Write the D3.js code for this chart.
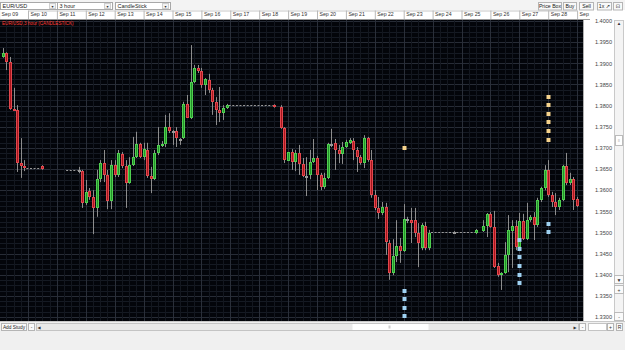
<!DOCTYPE html>
<html><head><meta charset="utf-8">
<script src="https://cdnjs.cloudflare.com/ajax/libs/d3/7.8.5/d3.min.js"></script>
<style>
html,body{margin:0;padding:0;background:#f0f0f0;overflow:hidden;width:625px;height:350px}
svg{display:block}
text{font-family:"Liberation Sans",Arial,"DejaVu Sans",sans-serif}
</style></head><body>
<svg id="chart" width="625" height="350"></svg>
<script>
// ---------- DATA (EUR/USD, 3-hour bars, Sep 2011) ----------
const barTimes = [
 "09-09 03","09-09 06","09-09 09","09-09 12","09-09 15","09-09 18","09-09 21","09-10 12",
 "09-11 18","09-11 21","09-12 00","09-12 03","09-12 06","09-12 09","09-12 12","09-12 15","09-12 18","09-12 21",
 "09-13 00","09-13 03","09-13 06","09-13 09","09-13 12","09-13 15","09-13 18","09-13 21",
 "09-14 00","09-14 03","09-14 06","09-14 09","09-14 12","09-14 15","09-14 18","09-14 21",
 "09-15 00","09-15 03","09-15 06","09-15 09","09-15 12","09-15 15","09-15 18","09-15 21",
 "09-16 00","09-16 03","09-16 06","09-16 09","09-16 12","09-16 15","09-16 18","09-16 21",
 "09-18 12","09-18 18","09-18 21",
 "09-19 00","09-19 03","09-19 06","09-19 09","09-19 12","09-19 15","09-19 18","09-19 21",
 "09-20 00","09-20 03","09-20 06","09-20 09","09-20 12","09-20 15","09-20 18","09-20 21",
 "09-21 00","09-21 03","09-21 06","09-21 09","09-21 12","09-21 15","09-21 18","09-21 21",
 "09-22 00","09-22 03","09-22 06","09-22 09","09-22 12","09-22 15","09-22 18","09-22 21",
 "09-23 00","09-23 03","09-23 06","09-23 09","09-23 12","09-23 15","09-23 18","09-23 21",
 "09-24 18",
 "09-25 12","09-25 18","09-25 21",
 "09-26 00","09-26 03","09-26 06","09-26 09","09-26 12","09-26 15","09-26 18","09-26 21",
 "09-27 00","09-27 03","09-27 06","09-27 09","09-27 12","09-27 15","09-27 18","09-27 21",
 "09-28 00","09-28 03","09-28 06","09-28 09","09-28 12","09-28 15","09-28 18","09-28 21",
 "09-29 00"
];
const opens = [
 1.3915,1.3924,1.3903,1.3792,1.3790,1.3664,1.3657,1.3657,
 1.3648,1.3645,1.3570,1.3598,1.3584,1.3558,1.3626,1.3664,1.3636,1.3574,
 1.3660,1.3636,1.3686,1.3657,1.3617,1.3660,1.3678,1.3709,
 1.3678,1.3695,1.3634,1.3626,1.3688,1.3705,1.3709,1.3749,
 1.3740,1.3740,1.3721,1.3723,1.3804,1.3771,1.3856,1.3889,
 1.3882,1.3849,1.3860,1.3837,1.3808,1.3790,1.3782,1.3794,
 1.3801,1.3797,1.3747,
 1.3669,1.3690,1.3667,1.3688,1.3662,1.3634,1.3636,1.3667,
 1.3676,1.3636,1.3607,1.3629,1.3709,1.3712,1.3695,1.3686,
 1.3702,1.3712,1.3716,1.3695,1.3678,1.3664,1.3723,1.3671,
 1.3589,1.3558,1.3546,1.3560,1.3475,1.3404,1.3444,1.3468,
 1.3456,1.3532,1.3529,1.3529,1.3499,1.3463,1.3515,1.3463,
 1.3501,
 1.3499,1.3503,1.3515,
 1.3544,1.3513,1.3421,1.3399,1.3404,1.3447,1.3503,1.3515,
 1.3466,1.3527,1.3484,1.3529,1.3537,1.3518,1.3577,1.3605,
 1.3648,1.3589,1.3572,1.3560,1.3577,1.3657,1.3617,1.3626,
 1.3579
];
const highs = [
 1.3936,1.3926,1.3915,1.3842,1.3801,1.3723,1.3671,1.3659,
 1.3655,1.3648,1.3624,1.3605,1.3600,1.3648,1.3671,1.3695,1.3648,1.3671,
 1.3671,1.3695,1.3690,1.3671,1.3678,1.3726,1.3738,1.3712,
 1.3712,1.3712,1.3655,1.3695,1.3749,1.3716,1.3778,1.3782,
 1.3742,1.3749,1.3723,1.3809,1.3825,1.3943,1.3896,1.3896,
 1.3889,1.3865,1.3875,1.3842,1.3820,1.3844,1.3801,1.3804,
 1.3803,1.3801,1.3749,
 1.3690,1.3697,1.3695,1.3707,1.3676,1.3678,1.3695,1.3721,
 1.3681,1.3641,1.3641,1.3712,1.3745,1.3721,1.3707,1.3714,
 1.3719,1.3723,1.3723,1.3702,1.3683,1.3730,1.3726,1.3695,
 1.3600,1.3584,1.3572,1.3570,1.3482,1.3484,1.3529,1.3487,
 1.3567,1.3537,1.3558,1.3558,1.3522,1.3522,1.3525,1.3506,
 1.3503,
 1.3508,1.3529,1.3546,
 1.3548,1.3551,1.3428,1.3406,1.3477,1.3541,1.3529,1.3529,
 1.3546,1.3544,1.3570,1.3541,1.3548,1.3582,1.3608,1.3659,
 1.3671,1.3596,1.3593,1.3582,1.3660,1.3688,1.3641,1.3631,
 1.3584
];
const lows = [
 1.3913,1.3884,1.3790,1.3787,1.3643,1.3629,1.3645,1.3648,
 1.3640,1.3558,1.3565,1.3577,1.3496,1.3537,1.3619,1.3619,1.3555,1.3555,
 1.3631,1.3631,1.3652,1.3558,1.3615,1.3657,1.3676,1.3676,
 1.3671,1.3629,1.3593,1.3624,1.3683,1.3702,1.3702,1.3735,
 1.3707,1.3702,1.3707,1.3721,1.3771,1.3768,1.3853,1.3877,
 1.3842,1.3825,1.3830,1.3778,1.3754,1.3761,1.3766,1.3792,
 1.3795,1.3745,1.3664,
 1.3669,1.3648,1.3645,1.3636,1.3631,1.3586,1.3626,1.3664,
 1.3600,1.3600,1.3603,1.3626,1.3702,1.3648,1.3664,1.3662,
 1.3700,1.3709,1.3671,1.3643,1.3660,1.3652,1.3667,1.3582,
 1.3553,1.3532,1.3541,1.3447,1.3388,1.3399,1.3430,1.3428,
 1.3454,1.3522,1.3475,1.3489,1.3418,1.3458,1.3458,1.3458,
 1.3499,
 1.3496,1.3501,1.3489,
 1.3511,1.3416,1.3395,1.3364,1.3402,1.3406,1.3416,1.3458,
 1.3463,1.3482,1.3482,1.3525,1.3482,1.3513,1.3572,1.3600,
 1.3584,1.3560,1.3541,1.3553,1.3574,1.3612,1.3612,1.3553,
 1.3560
];
const closes = [
 1.3924,1.3903,1.3792,1.3790,1.3664,1.3657,1.3652,1.3650,
 1.3648,1.3570,1.3596,1.3584,1.3558,1.3626,1.3664,1.3636,1.3574,1.3660,
 1.3636,1.3688,1.3657,1.3617,1.3660,1.3678,1.3709,1.3678,
 1.3697,1.3634,1.3626,1.3688,1.3707,1.3709,1.3749,1.3740,
 1.3740,1.3723,1.3721,1.3804,1.3771,1.3856,1.3889,1.3882,
 1.3849,1.3863,1.3837,1.3808,1.3790,1.3782,1.3794,1.3801,
 1.3797,1.3747,1.3671,
 1.3690,1.3667,1.3688,1.3662,1.3634,1.3634,1.3667,1.3676,
 1.3636,1.3607,1.3629,1.3709,1.3709,1.3695,1.3686,1.3702,
 1.3714,1.3719,1.3695,1.3678,1.3664,1.3723,1.3671,1.3589,
 1.3558,1.3546,1.3560,1.3477,1.3404,1.3444,1.3468,1.3456,
 1.3532,1.3532,1.3522,1.3499,1.3475,1.3518,1.3463,1.3499,
 1.3501,
 1.3506,1.3515,1.3544,
 1.3513,1.3418,1.3399,1.3404,1.3447,1.3506,1.3515,1.3466,
 1.3527,1.3484,1.3529,1.3537,1.3518,1.3577,1.3605,1.3648,
 1.3589,1.3572,1.3560,1.3577,1.3657,1.3617,1.3626,1.3577,
 1.3563
];
// weekend (no-trade) dashed connectors
const gapFrom  = ["09-09 21","09-11 06","09-16 21","09-23 21","09-24 18"];
const gapTo    = ["09-10 12","09-11 18","09-18 12","09-24 18","09-25 12"];
const gapPrice = [1.3652,1.3648,1.3801,1.3501,1.3501];
// signal markers
const upMarkTimes  = ["09-23 00","09-28 00","09-28 00","09-28 00","09-28 00","09-28 00","09-28 00"];
const upMarkPrices = [1.3700,1.3820,1.3801,1.3780,1.3761,1.3740,1.3719];
const dnMarkTimes  = ["09-23 00","09-23 00","09-23 00","09-23 00",
                      "09-27 00","09-27 00","09-27 00","09-27 00","09-27 00","09-27 00",
                      "09-28 00","09-28 00"];
const dnMarkPrices = [1.3362,1.3343,1.3321,1.3302,
                      1.3482,1.3461,1.3442,1.3421,1.3399,1.3380,
                      1.3520,1.3501];
// axis labels
const dayTimes  = ["09-09 00","09-10 00","09-11 00","09-12 00","09-13 00","09-14 00","09-15 00","09-16 00","09-17 00","09-18 00",
                   "09-19 00","09-20 00","09-21 00","09-22 00","09-23 00","09-24 00","09-25 00","09-26 00","09-27 00","09-28 00","09-29 00"];
const dayLabels = ["Sep 09","Sep 10","Sep 11","Sep 12","Sep 13","Sep 14","Sep 15","Sep 16","Sep 17","Sep 18",
                   "Sep 19","Sep 20","Sep 21","Sep 22","Sep 23","Sep 24","Sep 25","Sep 26","Sep 27","Sep 28","Sep 29"];
const priceTicks = [1.4000,1.3950,1.3900,1.3850,1.3800,1.3750,1.3700,1.3650,1.3600,1.3550,1.3500,1.3450,1.3400,1.3350,1.3300];

// ---------- SETUP ----------
const parseT = d3.utcParse("%Y-%m-%d %H:%M");
const T = s => parseT("2011-" + s.replace(/ (\d\d)$/, " $1:00"));
const svg = d3.select("#chart");
const PL = 0, PR = 583, PT = 20, PB = 321;

const x = d3.scaleUtc().domain([T("09-10 00"), T("09-29 00")]).range([28, 577.1]);
const y = d3.scaleLinear().domain([1.33, 1.40]).range([317, 21]);

svg.append("rect").attr("width", 625).attr("height", 350).attr("fill", "#f0f0f0");

// ---------- PLOT AREA ----------
const defs = svg.append("defs");
defs.append("clipPath").attr("id", "plotclip").append("rect")
  .attr("x", PL).attr("y", PT).attr("width", PR - PL).attr("height", PB - PT);
defs.append("clipPath").attr("id", "dateclip").append("rect")
  .attr("x", 0).attr("y", 9).attr("width", 590).attr("height", 12);

svg.append("rect").attr("x", PL).attr("y", PT).attr("width", PR - PL).attr("height", PB - PT).attr("fill", "#03050a");
const plot = svg.append("g").attr("clip-path", "url(#plotclip)");

// grid
const minorH = d3.range(1.3275, 1.4026, 0.00125);
plot.append("g").selectAll("line").data(minorH).join("line")
  .attr("x1", PL).attr("x2", PR)
  .attr("y1", d => Math.round(y(d)) + 0.5).attr("y2", d => Math.round(y(d)) + 0.5)
  .attr("stroke", "#151a23").attr("stroke-width", 1);
plot.append("g").selectAll("line").data(priceTicks).join("line")
  .attr("x1", PL).attr("x2", PR)
  .attr("y1", d => Math.round(y(d)) + 0.5).attr("y2", d => Math.round(y(d)) + 0.5)
  .attr("stroke", "#272c36").attr("stroke-width", 1);
const minorV = d3.utcHour.every(6).range(T("09-09 00"), T("09-29 06"));
plot.append("g").selectAll("line").data(minorV).join("line")
  .attr("x1", d => Math.round(x(d)) + 0.5).attr("x2", d => Math.round(x(d)) + 0.5)
  .attr("y1", PT).attr("y2", PB)
  .attr("stroke", "#13171f").attr("stroke-width", 1);
plot.append("g").selectAll("line").data(dayTimes.map(T)).join("line")
  .attr("x1", d => Math.round(x(d)) + 0.5).attr("x2", d => Math.round(x(d)) + 0.5)
  .attr("y1", PT).attr("y2", PB)
  .attr("stroke", "#2a2f39").attr("stroke-width", 1);

// title label
plot.append("text").attr("x", 2).attr("y", 25).attr("font-size", 4.6).attr("fill", "#ff3b30")
  .text("EUR/USD,3 hour (CANDLESTICK)");

// weekend dashed lines
plot.append("g").selectAll("line").data(gapFrom.map((f, i) => ({f: T(f), t: T(gapTo[i]), p: gapPrice[i]}))).join("line")
  .attr("x1", d => x(d.f) + 2).attr("x2", d => x(d.t) - 1)
  .attr("y1", d => Math.round(y(d.p)) + 0.5).attr("y2", d => Math.round(y(d.p)) + 0.5)
  .attr("stroke", "#9a9a9a").attr("stroke-width", 1).attr("stroke-dasharray", "2,1.6");

// candles
const bars = barTimes.map((t, i) => ({t: T(t), o: opens[i], h: highs[i], l: lows[i], c: closes[i]}));
const kind = d => Math.abs(d.c - d.o) < 0.00005 ? "doji" : (d.c > d.o ? "up" : "down");
const fillC = {up: "#23922a", down: "#a8161d", doji: "#8c8c8c"};
const edgeC = {up: "#4fd04f", down: "#e2474d", doji: "#9a9a9a"};
const cg = plot.append("g").selectAll("g").data(bars).join("g");
cg.append("line")
  .attr("x1", d => Math.round(x(d.t)) + 0.5).attr("x2", d => Math.round(x(d.t)) + 0.5)
  .attr("y1", d => y(d.h)).attr("y2", d => y(d.l))
  .attr("stroke", "#8d8d8d").attr("stroke-width", 1);
cg.append("rect")
  .attr("x", d => Math.round(x(d.t)) - 0.5).attr("width", 2)
  .attr("y", d => Math.round(Math.min(y(d.o), y(d.c))) + 0.5)
  .attr("height", d => Math.max(1, Math.round(Math.abs(y(d.o) - y(d.c))) - 1))
  .attr("fill", d => fillC[kind(d)]).attr("stroke", d => edgeC[kind(d)]).attr("stroke-width", 1);

// markers
const mk = (times, prices, color) => plot.append("g").selectAll("rect")
  .data(times.map((t, i) => ({t: T(t), p: prices[i]}))).join("rect")
  .attr("x", d => Math.round(x(d.t)) - 1.5).attr("y", d => Math.round(y(d.p)) - 2)
  .attr("width", 4).attr("height", 4).attr("fill", color);
mk(upMarkTimes, upMarkPrices, "#f6d38c");
mk(dnMarkTimes, dnMarkPrices, "#9fd2f2");

// ---------- DATE ROW ----------
svg.append("rect").attr("x", 0).attr("y", 10).attr("width", 625).attr("height", 10).attr("fill", "#ffffff");
const dateG = svg.append("g").attr("clip-path", "url(#dateclip)");
const dAxis = d3.axisBottom(x).tickValues(dayTimes.map(T)).tickFormat((d, i) => dayLabels[i]).tickSize(9).tickSizeOuter(0);
const da = dateG.append("g").attr("transform", "translate(0,10.5)").call(dAxis);
da.select(".domain").attr("stroke", "#c8c8c8");
da.selectAll(".tick line").attr("stroke", "#b8b8b8");
da.selectAll(".tick text").attr("text-anchor", "start").attr("x", 2).attr("y", 1.5)
  .attr("dy", "0.71em").attr("font-size", 5.2).attr("fill", "#333").attr("font-family", "Liberation Sans, Arial, sans-serif");
svg.append("line").attr("x1", 0).attr("x2", 590).attr("y1", 19.5).attr("y2", 19.5).attr("stroke", "#9a9a9a");

// ---------- PRICE PANEL ----------
svg.append("rect").attr("x", PR).attr("y", 20).attr("width", 625 - PR).attr("height", PB - 20).attr("fill", "#ffffff");
svg.append("line").attr("x1", PR + 0.5).attr("x2", PR + 0.5).attr("y1", 20).attr("y2", PB).attr("stroke", "#b0b0b0");
const yAxis = d3.axisRight(y).tickValues(priceTicks).tickFormat(d3.format(".4f")).tickSize(0);
const ya = svg.append("g").attr("transform", `translate(${PR},0)`).call(yAxis);
ya.select(".domain").remove();
ya.selectAll(".tick text").attr("x", 29).attr("text-anchor", "end").attr("font-size", 5.6).attr("fill", "#444")
  .attr("font-family", "Liberation Sans, Arial, sans-serif");
// vertical scroll strip
svg.append("rect").attr("x", 614.5).attr("y", 20.5).attr("width", 9).attr("height", 300).attr("fill", "#f4f4f4").attr("stroke", "#c9c9c9");
svg.append("text").attr("x", 619).attr("y", 25).attr("text-anchor", "middle").attr("font-size", 4.5).attr("fill", "#333").text("▲");
svg.append("rect").attr("x", 615.5).attr("y", 135.5).attr("width", 7).attr("height", 10).attr("fill", "#fff").attr("stroke", "#bbb");
svg.append("text").attr("x", 619).attr("y", 142).attr("text-anchor", "middle").attr("font-size", 4).attr("fill", "#777").text("≡");
[["▼", 281], ["+", 291], ["-", 318]].forEach(([s, yy]) => {
  svg.append("rect").attr("x", 614.5).attr("y", yy - 5.5).attr("width", 9).attr("height", 8).attr("fill", "#fafafa").attr("stroke", "#bbb");
  svg.append("text").attr("x", 619).attr("y", yy + 0.5).attr("text-anchor", "middle").attr("font-size", 5).attr("fill", "#333").text(s);
});

// ---------- TOP TOOLBAR ----------
svg.append("rect").attr("x", 0).attr("y", 0).attr("width", 625).attr("height", 10).attr("fill", "#f3f3f3");
const combo = (x0, x1, label) => {
  svg.append("rect").attr("x", x0 + 0.5).attr("y", 2.5).attr("width", x1 - x0).attr("height", 7).attr("fill", "#fff").attr("stroke", "#a8a8a8");
  svg.append("rect").attr("x", x1 - 7.5).attr("y", 3.5).attr("width", 6).attr("height", 5).attr("fill", "#f2f2f2").attr("stroke", "#cfcfcf");
  svg.append("text").attr("x", x1 - 4.5).attr("y", 8).attr("text-anchor", "middle").attr("font-size", 4).attr("fill", "#333").text("▾");
  svg.append("text").attr("x", x0 + 2.5).attr("y", 8.2).attr("font-size", 5.5).attr("fill", "#222").text(label);
};
combo(0, 57, "EUR/USD");
combo(57, 112, "3 hour");
combo(115, 170, "CandleStick");
const btn = (x0, x1, label) => {
  svg.append("rect").attr("x", x0 + 0.5).attr("y", 2.5).attr("width", x1 - x0).attr("height", 7.5).attr("fill", "#f9f9f9").attr("stroke", "#b5b5b5");
  svg.append("text").attr("x", (x0 + x1) / 2 + 0.5).attr("y", 8.3).attr("text-anchor", "middle").attr("font-size", 5.2).attr("fill", "#222").text(label);
};
btn(538, 561, "Price Box");
btn(563, 576, "Buy");
btn(579, 593, "Sell");
btn(597, 611, "1x ↗");
btn(613, 622, "⊡");

// ---------- BOTTOM BAR ----------
svg.append("rect").attr("x", 0).attr("y", 321).attr("width", 625).attr("height", 29).attr("fill", "#f0f0f0");
svg.append("line").attr("x1", 0).attr("x2", 625).attr("y1", 321.5).attr("y2", 321.5).attr("stroke", "#c8c8c8");
btn(1, 26, "Add Study"); // placeholder, repositioned below
svg.selectAll("rect").filter(function () { return +this.getAttribute("x") === 1.5 && +this.getAttribute("y") === 2.5; })
  .attr("y", 323.5).attr("height", 7);
svg.selectAll("text").filter(function () { return this.textContent === "Add Study"; }).attr("y", 329).attr("font-size", 4.8);
svg.append("rect").attr("x", 28.5).attr("y", 323.5).attr("width", 6).attr("height", 7).attr("fill", "#fafafa").attr("stroke", "#b5b5b5");
svg.append("text").attr("x", 31.5).attr("y", 329).attr("text-anchor", "middle").attr("font-size", 5).attr("fill", "#333").text("-");
svg.append("rect").attr("x", 36.5).attr("y", 323.5).attr("width", 542).attr("height", 7).attr("fill", "#e9e9e9").attr("stroke", "#c4c4c4");
svg.append("rect").attr("x", 352.5).attr("y", 324).attr("width", 76).attr("height", 6).attr("fill", "#ffffff");
svg.append("rect").attr("x", 388.5).attr("y", 325.5).attr("width", 2).attr("height", 3).attr("fill", "#cfcfcf");
svg.append("text").attr("x", 39).attr("y", 329).attr("text-anchor", "middle").attr("font-size", 4).attr("fill", "#333").text("◀");
svg.append("text").attr("x", 575).attr("y", 329).attr("text-anchor", "middle").attr("font-size", 4).attr("fill", "#333").text("▶");
[["-", 582], ["+", 610], ["R", 619]].forEach(([s, xx]) => {
  svg.append("rect").attr("x", xx - 2.5).attr("y", 323.5).attr("width", 6).attr("height", 7).attr("fill", "#fafafa").attr("stroke", "#b5b5b5");
  svg.append("text").attr("x", xx + 0.5).attr("y", 329).attr("text-anchor", "middle").attr("font-size", 5).attr("fill", "#333").text(s);
});
svg.append("rect").attr("x", 588.5).attr("y", 323.5).attr("width", 18).attr("height", 7).attr("fill", "#fff").attr("stroke", "#c4c4c4");
</script>
</body></html>
